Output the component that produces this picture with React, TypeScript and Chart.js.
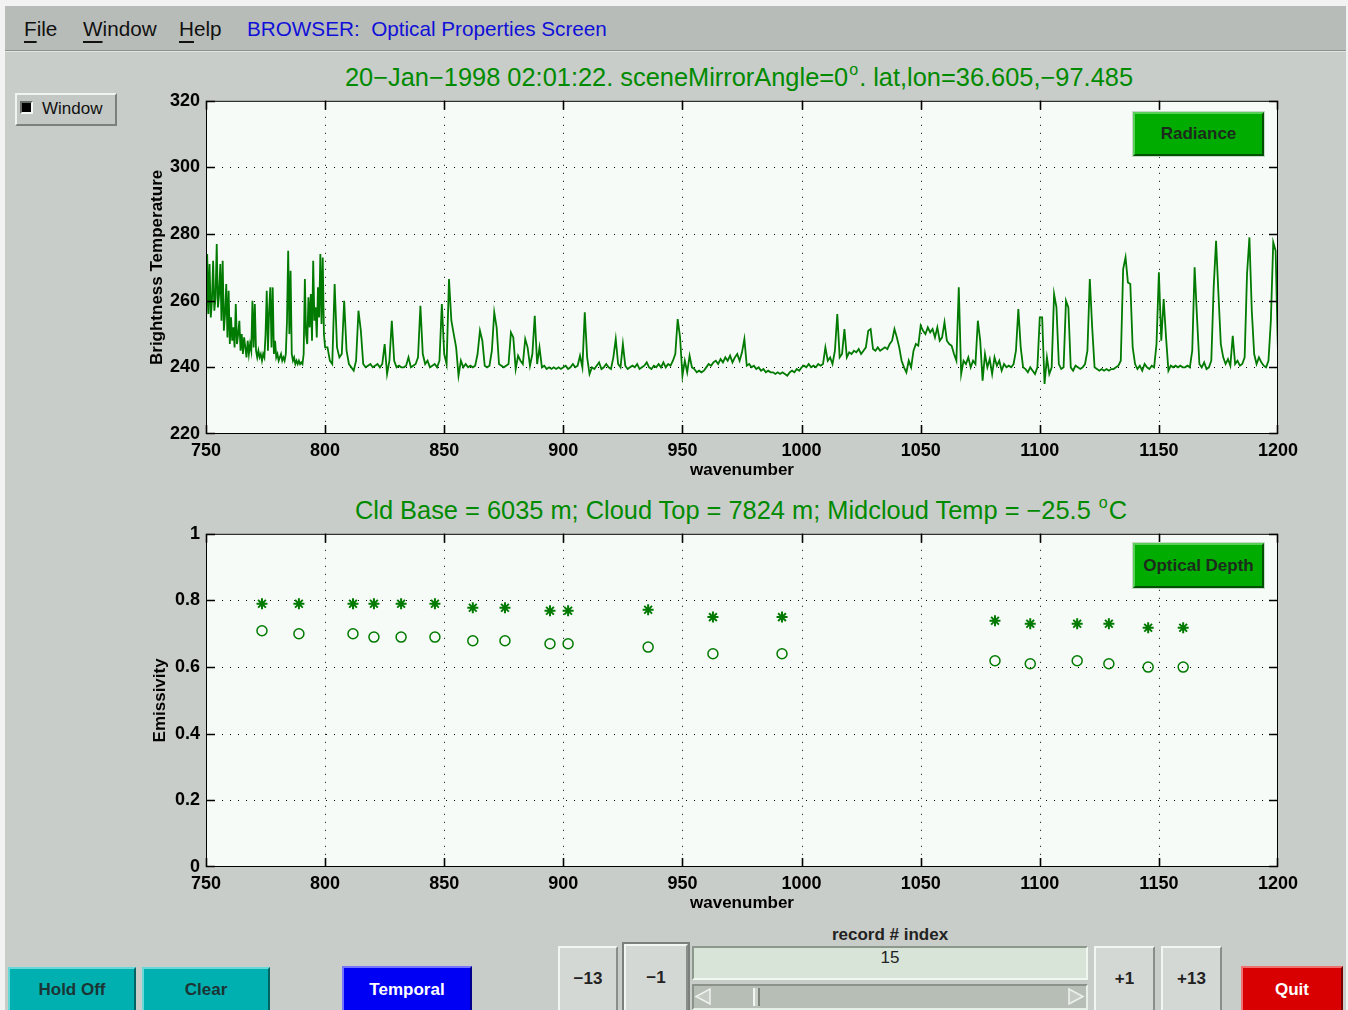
import React, { useEffect, useRef } from "react";
import { Chart, registerables } from "chart.js";

Chart.register(...registerables);

// ---------------- data ----------------
const X_TICKS = [750, 800, 850, 900, 950, 1000, 1050, 1100, 1150, 1200];
const BT_TICKS = [220, 240, 260, 280, 300, 320];
const EMIS_TICKS = [0, 0.2, 0.4, 0.6, 0.8, 1];
const EMIS_TICK_LABELS = ["0", "0.2", "0.4", "0.6", "0.8", "1"];

// brightness temperature spectrum
// 750-800 cm-1 sampled every 0.5 cm-1
const BT_750_800_START = 750;
const BT_750_800_STEP = 0.5;
const BT_750_800 = [
  252, 274, 256, 271, 255, 260, 272, 257, 261, 277,
  258, 262, 271, 254, 272, 251, 256, 265, 249, 263,
  247, 255, 248, 252, 246, 259, 247, 250, 254, 245,
  250, 244, 249, 246, 243, 248, 244, 247, 245, 260,
  246, 259, 245, 243, 245, 243, 244, 242, 244, 243,
  250, 263, 245, 257, 264, 246, 264, 244, 248, 243,
  244, 242, 243, 244, 242, 243, 242, 244, 254, 275,
  250, 269, 244, 242, 243, 241, 242, 241, 242, 241,
  241.5, 241, 244, 266.5, 250, 247, 261, 252, 262, 248,
  272, 254, 258, 249, 264, 255, 274, 253, 273, 250,
  246,
];
// 801-1200 cm-1 sampled every 1 cm-1
const BT_801_START = 801;
const BT_801_850 = [
  246, 242, 241, 265, 246, 243, 244, 260, 245, 241,
  240, 239, 242, 257, 251, 241, 240, 240.5, 241, 240,
  240.5, 241, 240, 241, 247, 238, 242, 254, 242, 240,
  240.5, 240, 240, 240.5, 243, 240, 240.5, 241, 243, 258.5,
  244, 241, 242, 240, 240.5, 241, 240, 242, 259, 244,
];
const BT_851_900 = [
  241, 266.5, 254, 250, 246, 237.5, 242, 240, 241, 240,
  240.5, 240, 240.5, 244, 251, 248, 240.5, 240, 240.5, 245,
  256.5, 252, 241, 240.5, 240, 240.5, 241, 250.5, 249, 239.5,
  243.5, 242, 241, 248.5, 246, 240.5, 244, 255.5, 241, 246,
  240, 240.5, 239.5, 240, 239.5, 240, 239.5, 240, 239.5, 240,
];
const BT_901_950 = [
  240.5, 239.5, 240, 241, 240, 240.5, 243.5, 240, 256.5, 243,
  238, 240, 239.5, 240.5, 241.5, 239.5, 240, 241, 240, 239.5,
  243, 248.5, 241, 240, 247, 240.5, 239.5, 240, 240.5, 240,
  241, 239.5, 240, 240.5, 241.5, 240, 239.5, 240.5, 240, 241,
  240, 241.5, 240, 241, 240.5, 242, 244, 254.5, 249, 237.5,
];
const BT_951_1000 = [
  242, 238.5, 243.5, 240, 239.5, 238.5, 239, 238.5, 239, 240,
  241, 240.5, 241.5, 242, 241, 242.5, 241.5, 243, 242, 243.5,
  241.5, 243, 244, 242, 244.5, 248.5, 240.5, 241, 240, 240.5,
  239.5, 240, 239, 239.5, 238.5, 239, 238.5, 238.5, 238, 238.5,
  238, 238.5, 238, 237.5, 238.5, 239, 238.5, 239.5, 239, 240,
];
const BT_1001_1050 = [
  240.5, 240, 241, 240, 240.5, 240, 241, 240.5, 241, 246,
  242, 243, 241, 245, 256, 243, 244, 251.5, 243, 244.5,
  244, 245, 244.5, 245.5, 244, 245, 246, 251, 251.5, 245.5,
  245, 246, 245, 245.5, 246, 245.5, 247, 248, 251.5, 249,
  246, 242, 240, 238.5, 242, 240, 245, 247, 246.5, 252.5,
];
const BT_1051_1100 = [
  251, 250, 252, 250.5, 251.5, 249, 252, 248, 249, 253.5,
  248, 247, 246.5, 244, 242, 264, 238, 242, 241, 243,
  240, 242, 241, 254, 248, 236, 244, 240, 242.5, 238,
  243, 240.5, 242, 239, 241, 240, 240.5, 240, 241, 245,
  257.5, 246, 240, 239.5, 238.5, 240, 239, 238, 240, 255,
];
const BT_1101_1150 = [
  255, 235, 243, 238, 240, 262, 258, 241, 239.5, 240,
  260, 258, 240, 239, 240.5, 240, 239.5, 240, 241, 245,
  266.5, 252, 240, 239.5, 239, 239.5, 239, 239.5, 239, 239.5,
  239.5, 240, 240.5, 242, 269.5, 273, 265.5, 265, 246, 241,
  239.5, 240.5, 239, 241, 240, 239.5, 240.5, 240, 247, 268.5,
];
const BT_1151_1200 = [
  248, 260.5, 249, 239, 240.5, 240, 240.5, 240, 240.5, 240,
  240, 240.5, 240, 245, 270, 255, 241, 240, 241.5, 239.5,
  240, 242, 264, 278, 262, 247, 243, 241, 242.5, 240.5,
  249.5, 241, 242, 240.5, 241, 243, 268, 279, 257, 244,
  241, 243, 241.5, 240.5, 240, 242, 254, 277.5, 275, 244,
];

// optical depth channels
const OD_WAVENUMBERS = [773.5, 789, 811.7, 820.5, 831.9, 846.1, 862, 875.5, 894.4, 902, 935.6, 962.8, 991.8, 1081.2, 1096, 1115.7, 1129, 1145.5, 1160.2];
const STAR_EMIS = [0.79, 0.79, 0.79, 0.79, 0.79, 0.79, 0.778, 0.778, 0.769, 0.769, 0.772, 0.75, 0.75, 0.739, 0.73, 0.73, 0.73, 0.718, 0.718];
const CIRCLE_EMIS = [0.709, 0.7, 0.7, 0.69, 0.69, 0.69, 0.679, 0.679, 0.67, 0.67, 0.66, 0.64, 0.64, 0.619, 0.61, 0.619, 0.61, 0.6, 0.6];

// ---------------- styles ----------------
const FONT = "'Liberation Sans', Arial, Helvetica, sans-serif";
const PAGE_BG = "#f2f2f2";
const WIN_BG = "#c9cdc9";
const MENU_BG = "#b8bcb8";
const PLOT_BG = "#f7fbf7";
const LINE_GREEN = "#007a00";
const TITLE_GREEN = "#008a00";

Chart.defaults.font.family = FONT;
Chart.defaults.color = "#000";

const framePlugin = {
  id: "frame",
  beforeDatasetsDraw(chart: any) {
    const { ctx, chartArea: a, scales } = chart;
    const x = scales.x;
    const y = scales.y;
    ctx.save();
    ctx.fillStyle = PLOT_BG;
    ctx.fillRect(a.left, a.top, a.right - a.left, a.bottom - a.top);
    ctx.strokeStyle = "#000";
    ctx.lineWidth = 1;
    ctx.setLineDash([1, 7]);
    ctx.beginPath();
    x.ticks.forEach((t: any) => {
      const px = Math.round(x.getPixelForValue(t.value)) + 0.5;
      if (px > a.left + 2 && px < a.right - 2) {
        ctx.moveTo(px, a.top);
        ctx.lineTo(px, a.bottom);
      }
    });
    y.ticks.forEach((t: any) => {
      const py = Math.round(y.getPixelForValue(t.value)) + 0.5;
      if (py > a.top + 2 && py < a.bottom - 2) {
        ctx.moveTo(a.left, py);
        ctx.lineTo(a.right, py);
      }
    });
    ctx.stroke();
    ctx.restore();
  },
  afterDatasetsDraw(chart: any) {
    const { ctx, chartArea: a, scales } = chart;
    const x = scales.x;
    const y = scales.y;
    const L = 9;
    ctx.save();
    ctx.setLineDash([]);
    ctx.strokeStyle = "#000";
    ctx.lineWidth = 1;
    ctx.strokeRect(a.left + 0.5, a.top + 0.5, a.right - a.left - 1, a.bottom - a.top - 1);
    ctx.lineWidth = 1.6;
    ctx.beginPath();
    x.ticks.forEach((t: any) => {
      const px = Math.min(Math.max(Math.round(x.getPixelForValue(t.value)) + 0.5, a.left + 0.5), a.right - 0.5);
      ctx.moveTo(px, a.top);
      ctx.lineTo(px, a.top + L);
      ctx.moveTo(px, a.bottom);
      ctx.lineTo(px, a.bottom - L);
    });
    y.ticks.forEach((t: any) => {
      const py = Math.min(Math.max(Math.round(y.getPixelForValue(t.value)) + 0.5, a.top + 0.5), a.bottom - 0.5);
      ctx.moveTo(a.left, py);
      ctx.lineTo(a.left + L, py);
      ctx.moveTo(a.right, py);
      ctx.lineTo(a.right - L, py);
    });
    ctx.stroke();
    ctx.restore();
  },
};

function xScale() {
  return {
    type: "linear",
    min: X_TICKS[0],
    max: X_TICKS[X_TICKS.length - 1],
    afterBuildTicks: (s: any) => {
      s.ticks = X_TICKS.map((v) => ({ value: v }));
    },
    afterFit: (s: any) => {
      s.height = 56;
    },
    grid: { display: false, drawTicks: false },
    border: { display: false },
    ticks: {
      color: "#000",
      font: { size: 18, weight: "bold" },
      padding: 6,
      maxRotation: 0,
      autoSkip: false,
      callback: (v: any) => String(v),
    },
    title: {
      display: true,
      text: "wavenumber",
      color: "#000",
      font: { size: 17, weight: "bold" },
      padding: { top: 0, bottom: 9 },
    },
  };
}

function yScale(ticks: number[], labels: string[], title: string, titlePad: number) {
  return {
    type: "linear",
    min: ticks[0],
    max: ticks[ticks.length - 1],
    afterBuildTicks: (s: any) => {
      s.ticks = ticks.map((v) => ({ value: v }));
    },
    afterFit: (s: any) => {
      s.width = 106;
    },
    grid: { display: false, drawTicks: false },
    border: { display: false },
    ticks: {
      color: "#000",
      font: { size: 18, weight: "bold" },
      padding: 6,
      autoSkip: false,
      callback: (v: any) => {
        const i = ticks.indexOf(v);
        return i >= 0 ? labels[i] : String(v);
      },
    },
    title: {
      display: true,
      text: title,
      color: "#000",
      font: { size: 17, weight: "bold" },
      padding: { top: titlePad, bottom: 0 },
    },
  };
}

const commonOptions = (yOpts: any): any => ({
  animation: false,
  responsive: false,
  maintainAspectRatio: false,
  events: [],
  layout: { padding: { left: 0, top: 0, right: 42, bottom: 0 } },
  plugins: { legend: { display: false }, tooltip: { enabled: false } },
  scales: { x: xScale(), y: yOpts },
});

function spectrumConfig(): any {
  const dense = BT_750_800.map((t, i) => ({ x: BT_750_800_START + i * BT_750_800_STEP, y: t }));
  const rest = [
    ...BT_801_850, ...BT_851_900, ...BT_901_950, ...BT_951_1000,
    ...BT_1001_1050, ...BT_1051_1100, ...BT_1101_1150, ...BT_1151_1200,
  ].map((t, i) => ({ x: BT_801_START + i, y: t }));
  return {
    type: "line",
    data: {
      datasets: [
        {
          label: "Radiance",
          data: [...dense, ...rest],
          borderColor: LINE_GREEN,
          borderWidth: 1.8,
          pointRadius: 0,
          tension: 0,
          fill: false,
        },
      ],
    },
    options: commonOptions(yScale(BT_TICKS, BT_TICKS.map((v) => String(v)), "Brightness Temperature", 47)),
    plugins: [framePlugin],
  };
}

function depthConfig(): any {
  const stars = OD_WAVENUMBERS.map((w, i) => ({ x: w, y: STAR_EMIS[i] }));
  const circles = OD_WAVENUMBERS.map((w, i) => ({ x: w, y: CIRCLE_EMIS[i] }));
  return {
    type: "scatter",
    data: {
      datasets: [
        {
          label: "Emissivity (*)",
          data: stars,
          pointStyle: "star",
          pointRadius: 5.5,
          borderWidth: 2,
          borderColor: LINE_GREEN,
          backgroundColor: LINE_GREEN,
        },
        {
          label: "Emissivity (o)",
          data: circles,
          pointStyle: "circle",
          pointRadius: 5,
          borderWidth: 1.5,
          borderColor: LINE_GREEN,
          backgroundColor: "rgba(0,0,0,0)",
        },
      ],
    },
    options: commonOptions(yScale(EMIS_TICKS, EMIS_TICK_LABELS, "Emissivity", 50)),
    plugins: [framePlugin],
  };
}

function ChartCanvas(props: { make: () => any; left: number; top: number; width: number; height: number }) {
  const ref = useRef<HTMLCanvasElement>(null);
  useEffect(() => {
    const c = new Chart(ref.current as HTMLCanvasElement, props.make());
    return () => c.destroy();
  }, []);
  return (
    <canvas
      ref={ref}
      width={props.width}
      height={props.height}
      style={{ position: "absolute", left: props.left, top: props.top, width: props.width, height: props.height }}
    />
  );
}

function Btn(props: {
  x: number; y: number; w: number; h: number; bg: string; light: string; dark: string;
  color: string; text: string; size?: number; bold?: boolean; bw?: number;
}) {
  const bw = props.bw ?? 2;
  return (
    <div
      style={{
        position: "absolute",
        left: props.x,
        top: props.y,
        width: props.w,
        height: props.h,
        boxSizing: "border-box",
        background: props.bg,
        borderTop: `${bw}px solid ${props.light}`,
        borderLeft: `${bw}px solid ${props.light}`,
        borderBottom: `${bw}px solid ${props.dark}`,
        borderRight: `${bw}px solid ${props.dark}`,
        display: "flex",
        alignItems: "center",
        justifyContent: "center",
        color: props.color,
        fontFamily: FONT,
        fontSize: props.size ?? 17,
        fontWeight: props.bold === false ? "normal" : "bold",
        whiteSpace: "nowrap",
      }}
    >
      {props.text}
    </div>
  );
}

const sup: React.CSSProperties = { fontSize: 16, position: "relative", top: -11, margin: "0 1px" };

export default function App() {
  const u: React.CSSProperties = { textDecoration: "underline", textUnderlineOffset: "5px", textDecorationThickness: "2px" };
  const menuText: React.CSSProperties = { position: "absolute", top: 17, fontSize: 20.7, lineHeight: "24px", fontFamily: FONT, whiteSpace: "nowrap" };
  return (
    <div style={{ position: "fixed", left: 0, top: 0, width: 1348, height: 1010, background: PAGE_BG, overflow: "hidden", fontFamily: FONT }}>
      {/* window */}
      <div style={{ position: "absolute", left: 5, top: 6, width: 1341, height: 1010, background: WIN_BG }} />
      {/* menu bar */}
      <div style={{ position: "absolute", left: 5, top: 6, width: 1341, height: 44, background: MENU_BG, borderBottom: "1px solid #8e928e", boxShadow: "0 1px 0 #e0e4e0" }} />
      <div style={{ ...menuText, left: 24, color: "#111" }}><span style={u}>F</span>ile</div>
      <div style={{ ...menuText, left: 83, color: "#111" }}><span style={u}>W</span>indow</div>
      <div style={{ ...menuText, left: 179, color: "#111" }}><span style={u}>H</span>elp</div>
      <div style={{ ...menuText, left: 247, color: "#1010d8" }}>BROWSER:&nbsp; Optical Properties Screen</div>

      {/* Window toggle */}
      <div style={{ position: "absolute", left: 15, top: 93, width: 102, height: 33, boxSizing: "border-box", background: "#c4c8c4", borderTop: "2px solid #f0f4f0", borderLeft: "2px solid #f0f4f0", borderBottom: "2px solid #7c807c", borderRight: "2px solid #7c807c" }} />
      <div style={{ position: "absolute", left: 20, top: 101, width: 13, height: 13, boxSizing: "border-box", background: "#000", borderTop: "2px solid #6a6e6a", borderLeft: "2px solid #6a6e6a", borderBottom: "2px solid #f4f8f4", borderRight: "2px solid #f4f8f4" }} />
      <div style={{ position: "absolute", left: 42, top: 98, fontSize: 17, lineHeight: "22px", color: "#111", fontFamily: FONT }}>Window</div>

      {/* titles */}
      <div style={{ position: "absolute", left: 239, width: 1000, top: 63, textAlign: "center", color: TITLE_GREEN, fontSize: 25.4, lineHeight: "28px", whiteSpace: "nowrap" }}>
        20−Jan−1998 02:01:22. sceneMirrorAngle=0<span style={sup}>o</span>. lat,lon=36.605,−97.485
      </div>
      <div style={{ position: "absolute", left: 241, width: 1000, top: 496, textAlign: "center", color: TITLE_GREEN, fontSize: 25.4, lineHeight: "28px", whiteSpace: "nowrap" }}>
        Cld Base = 6035 m; Cloud Top = 7824 m; Midcloud Temp = −25.5 <span style={sup}>o</span>C
      </div>

      {/* charts */}
      <ChartCanvas make={spectrumConfig} left={100} top={84} width={1220} height={406} />
      <ChartCanvas make={depthConfig} left={100} top={517} width={1220} height={406} />

      {/* legend buttons */}
      <div style={{ position: "absolute", left: 1132, top: 111, width: 133, height: 46, boxSizing: "border-box", border: "1px solid #c8d8c8" }} />
      <Btn x={1133} y={112} w={131} h={44} bg="#00ac00" light="#58d058" dark="#005200" color="#1c2c1c" text="Radiance" />
      <div style={{ position: "absolute", left: 1132, top: 542, width: 133, height: 47, boxSizing: "border-box", border: "1px solid #c8d8c8" }} />
      <Btn x={1133} y={543} w={131} h={45} bg="#00ac00" light="#58d058" dark="#005200" color="#1c2c1c" text="Optical Depth" />

      {/* bottom controls */}
      <Btn x={8} y={967} w={128} h={46} bg="#00b0b0" light="#66d8d8" dark="#006464" color="#1c3434" text="Hold Off" />
      <Btn x={142} y={967} w={128} h={46} bg="#00b0b0" light="#66d8d8" dark="#006464" color="#1c3434" text="Clear" />
      <Btn x={342} y={966} w={130} h={47} bg="#0000f4" light="#7474ff" dark="#00008c" color="#ffffff" text="Temporal" />

      <div style={{ position: "absolute", left: 692, width: 396, top: 924, textAlign: "center", fontSize: 17, fontWeight: "bold", lineHeight: "22px", color: "#222" }}>record # index</div>
      <Btn x={558} y={946} w={60} h={66} bg="#d4d8d4" light="#f2f6f2" dark="#8a8e8a" color="#222" text="−13" />
      <div style={{ position: "absolute", left: 622, top: 942, width: 68, height: 70, background: "#7c807c" }} />
      <Btn x={624} y={944} w={64} h={68} bg="#d4d8d4" light="#f2f6f2" dark="#8a8e8a" color="#222" text="−1" />
      <div style={{ position: "absolute", left: 692, top: 946, width: 396, height: 34, boxSizing: "border-box", background: "#d8e4d8", borderTop: "2px solid #8c988c", borderLeft: "2px solid #8c988c", borderBottom: "2px solid #f0f6f0", borderRight: "2px solid #f0f6f0" }} />
      <div style={{ position: "absolute", left: 692, width: 396, top: 947, textAlign: "center", fontSize: 17, lineHeight: "22px", color: "#222" }}>15</div>
      <div style={{ position: "absolute", left: 692, top: 984, width: 396, height: 26, boxSizing: "border-box", background: "#b6beb6", borderTop: "2px solid #8a928a", borderLeft: "2px solid #8a928a", borderBottom: "2px solid #e8eee8", borderRight: "2px solid #e8eee8" }} />
      <svg style={{ position: "absolute", left: 694, top: 987 }} width={20} height={20}>
        <polygon points="16,2 16,17 2,9.5" fill="#c4ccc4" stroke="#eef2ee" strokeWidth={1.5} />
      </svg>
      <svg style={{ position: "absolute", left: 1066, top: 987 }} width={20} height={20}>
        <polygon points="3,2 3,17 17,9.5" fill="#c4ccc4" stroke="#eef2ee" strokeWidth={1.5} />
      </svg>
      <div style={{ position: "absolute", left: 753, top: 988, width: 7, height: 18, boxSizing: "border-box", background: "#c8d0c8", borderLeft: "2px solid #f2f6f2", borderRight: "2px solid #7c847c" }} />
      <Btn x={1094} y={946} w={61} h={66} bg="#d4d8d4" light="#f2f6f2" dark="#8a8e8a" color="#222" text="+1" />
      <Btn x={1161} y={946} w={61} h={66} bg="#d4d8d4" light="#f2f6f2" dark="#8a8e8a" color="#222" text="+13" />
      <Btn x={1241} y={966} w={102} h={47} bg="#d80000" light="#f07070" dark="#780000" color="#ffffff" text="Quit" />
    </div>
  );
}
